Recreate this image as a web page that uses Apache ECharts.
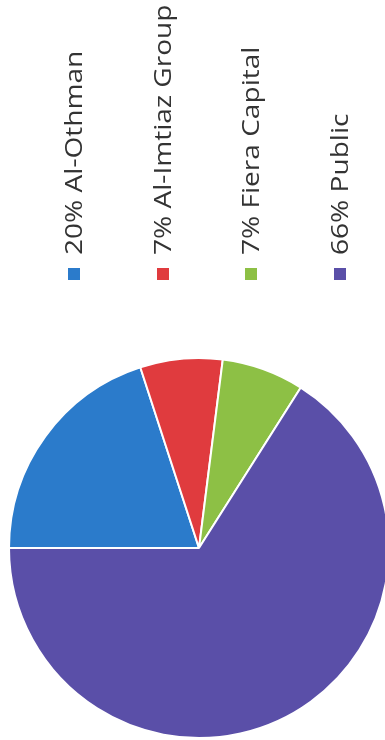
<!DOCTYPE html>
<html>
<head>
<meta charset="utf-8">
<script src="https://cdn.jsdelivr.net/npm/echarts@6/dist/echarts.min.js"></script>
<style>html,body{margin:0;padding:0;background:#fff;}#c{width:385px;height:740px;}</style>
</head>
<body>
<div id="c"></div>
<script>
var categories = ['Al-Othman', 'Al-Imtiaz Group', 'Fiera Capital', 'Public'];
var values = [20, 7, 7, 66];
var colors = ['#2b7bcb', '#e03b3e', '#8dc045', '#5a4fa8'];

var chart = echarts.init(document.getElementById('c'));
var legendX = [74, 163, 251, 340];
var graphics = categories.map(function (name, i) {
  return {
    type: 'group',
    x: legendX[i],
    y: 274,
    rotation: Math.PI / 2,
    children: [
      { type: 'rect', shape: { x: -6, y: -6, width: 12, height: 12 }, style: { fill: colors[i] } },
      { type: 'text', x: 19, y: 1, scaleX: 1.22, style: { text: values[i] + '% ' + name, fill: '#333333', font: '23px "Open Sans"', verticalAlign: 'middle', align: 'left' } }
    ]
  };
});
chart.setOption({
  backgroundColor: '#fff',
  animation: false,
  color: colors,
  graphic: graphics,
  series: [{
    type: 'pie',
    center: [199, 548],
    radius: 190,
    startAngle: 180,
    clockwise: true,
    label: { show: false },
    labelLine: { show: false },
    itemStyle: { borderColor: '#fff', borderWidth: 2 },
    data: categories.map(function (n, i) { return { name: n, value: values[i] }; })
  }]
});
</script>
</body>
</html>
